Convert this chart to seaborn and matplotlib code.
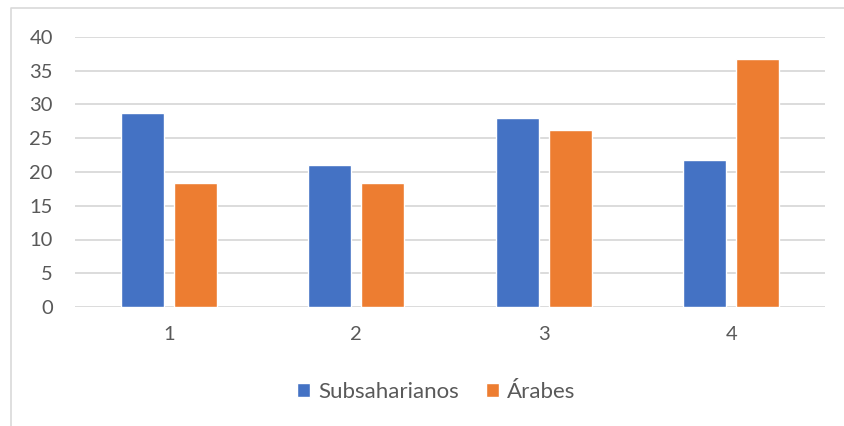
import pandas as pd
import seaborn as sns
import matplotlib.pyplot as plt
from matplotlib.lines import Line2D

# data #
grupos = ["1", "2", "3", "4"]
series = ["Subsaharianos", "Árabes"]
subsaharianos = [28.7, 21.1, 28.05, 21.8]
arabes = [18.3, 18.3, 26.2, 36.7]
colores = ["#4472C4", "#ED7D31"]

df = pd.DataFrame({
    "grupo": grupos * 2,
    "serie": [series[0]] * 4 + [series[1]] * 4,
    "valor": subsaharianos + arabes,
})

sns.set_theme(style="white")
plt.rcParams['font.family'] = ['Lato', 'DejaVu Sans']
gris = "#595959"

fig = plt.figure(figsize=(8.44, 4.26), dpi=100)
ax = fig.add_axes([75 / 844, 1 - 307 / 426, 750 / 844, 270 / 426])

sns.barplot(data=df, x="grupo", y="valor", hue="serie", palette=colores,
            width=0.565, gap=0.19, ax=ax, saturation=1)

ax.set_ylim(0, 40)
ax.set_yticks(range(0, 45, 5))
ax.yaxis.grid(True, color="#d9d9d9", linewidth=1.3)
ax.set_axisbelow(True)
for s in ax.spines.values():
    s.set_visible(False)
ax.set_xlabel("")
ax.set_ylabel("")
ax.tick_params(axis="both", length=0, labelsize=14.5, labelcolor=gris)
ax.tick_params(axis="x", pad=14)
ax.tick_params(axis="y", pad=16)

leg = ax.legend(loc="center", bbox_to_anchor=(436 / 844, 1 - 392 / 426), bbox_transform=fig.transFigure,
                ncol=2, frameon=False, fontsize=16, handlelength=0.6, handleheight=0.6,
                handletextpad=0.35, columnspacing=1.2)
for t in leg.get_texts():
    t.set_color(gris)

# chart border (only top and left edges show)
fig.lines.append(Line2D([11 / 844, 11 / 844, 1], [0, 1 - 8 / 426, 1 - 8 / 426],
                        transform=fig.transFigure, color="#d9d9d9", linewidth=1.2))

fig.savefig("out.png", dpi=100)
